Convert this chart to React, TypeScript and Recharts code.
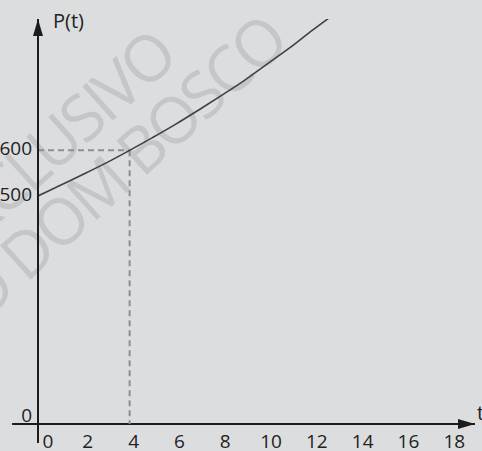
import React from 'react';
import { LineChart, Line, XAxis, YAxis, ReferenceLine, ReferenceDot } from 'recharts';

// Population P(t) over time t
const timeValues = [0, 1, 2, 3, 4, 5, 6, 7, 8, 9, 10, 11, 12, 12.7];
const populationValues = [500, 524, 548, 573, 600, 628, 657, 688, 720, 753, 789, 825, 864, 890];

// Axis ticks
const xTickValues = [0, 2, 4, 6, 8, 10, 12, 14, 16, 18];
const yTickValues = [0, 500, 600];

// Highlighted point
const markedTime = 4;
const markedPopulation = 600;

// Axis extents (arrow tips and axis tails)
const X_MIN_TAIL = -1.13;
const X_MAX = 19.08;
const Y_MIN = -41.7;
const Y_MAX = 888;

const data = timeValues.map((t, i) => ({ t, p: populationValues[i] }));

const FONT = '"Open Sans", "Noto Sans", sans-serif';
const AXIS_COLOR = '#1c1c1c';
const CURVE_COLOR = '#404040';
const GUIDE_COLOR = '#8e8e8e';
const BG = '#dcdddf';

const XTick = (props: any) => {
  const { x, y, payload } = props;
  const extra = payload.value === 0 ? 6 : 0;
  return (
    <text x={x + 4 + extra} y={y} dy={5} textAnchor="middle" fontFamily={FONT} fontSize={19} fill="#222">
      {payload.value}
    </text>
  );
};

const YTick = (props: any) => {
  const { x, y, payload } = props;
  const shift = payload.value === 0 ? -9 : -2;
  return (
    <text x={x} y={y + shift} dy="0.36em" textAnchor="end" fontFamily={FONT} fontSize={19} fill="#222">
      {payload.value}
    </text>
  );
};

const UpArrow = (props: any) => {
  const { cx, cy } = props;
  return (
    <g>
      <path d={`M${cx},${cy} L${cx - 5},${cy + 17} L${cx + 5},${cy + 17} Z`} fill={AXIS_COLOR} />
      <text x={cx + 15} y={cy + 9} fontFamily={FONT} fontSize={20} fill="#222">
        P(t)
      </text>
    </g>
  );
};

const RightArrow = (props: any) => {
  const { cx, cy } = props;
  return (
    <g>
      <path d={`M${cx},${cy} L${cx - 17},${cy - 5} L${cx - 17},${cy + 5} Z`} fill={AXIS_COLOR} />
      <text x={cx + 2} y={cy - 4} fontFamily={FONT} fontSize={20} fill="#222">
        t
      </text>
    </g>
  );
};

const Watermark = () => (
  <svg width={482} height={451} style={{ position: 'absolute', left: 0, top: 0 }}>
    <g fontFamily={FONT} fontSize={64} fill="#c5c6c8" letterSpacing={-3.5}>
      <text x={179} y={61} textAnchor="end" transform="rotate(-42 179 61)">
        USO EXCLUSIVO
      </text>
      <text x={290} y={46} textAnchor="end" transform="rotate(-42 290 46)">
        ENSINO DOM BOSCO
      </text>
    </g>
  </svg>
);

export default function App() {
  return (
    <div style={{ position: 'absolute', left: 0, top: 0, width: 482, height: 451, background: BG, overflow: 'hidden' }}>
      <Watermark />
      <div style={{ position: 'absolute', left: 0, top: 0 }}>
        <LineChart width={482} height={451} data={data} margin={{ top: 19, right: 7, bottom: 0, left: 0 }}>
          <XAxis
            dataKey="t"
            type="number"
            domain={[0, X_MAX]}
            ticks={xTickValues}
            allowDataOverflow
            height={8}
            axisLine={false}
            tickLine={false}
            tickSize={0}
            tickMargin={0}
            tick={<XTick />}
            interval={0}
          />
          <YAxis
            type="number"
            domain={[Y_MIN, Y_MAX]}
            ticks={yTickValues}
            allowDataOverflow
            width={38}
            axisLine={{ stroke: AXIS_COLOR, strokeWidth: 2 }}
            tickLine={false}
            tickSize={0}
            tickMargin={6}
            tick={<YTick />}
            interval={0}
          />
          <ReferenceLine
            segment={[{ x: X_MIN_TAIL, y: 0 }, { x: X_MAX, y: 0 }]}
            stroke={AXIS_COLOR}
            strokeWidth={2}
            ifOverflow="visible"
          />
          <ReferenceLine
            segment={[{ x: 0, y: markedPopulation }, { x: markedTime, y: markedPopulation }]}
            stroke={GUIDE_COLOR}
            strokeWidth={2}
            strokeDasharray="6 4"
            ifOverflow="visible"
          />
          <ReferenceLine
            segment={[{ x: markedTime, y: markedPopulation }, { x: markedTime, y: 0 }]}
            stroke={GUIDE_COLOR}
            strokeWidth={2}
            strokeDasharray="6 4"
            ifOverflow="visible"
          />
          <Line
            dataKey="p"
            type="monotone"
            stroke={CURVE_COLOR}
            strokeWidth={1.6}
            dot={false}
            isAnimationActive={false}
          />
          <ReferenceDot x={0} y={Y_MAX} shape={<UpArrow />} ifOverflow="visible" />
          <ReferenceDot x={X_MAX} y={0} shape={<RightArrow />} ifOverflow="visible" />
        </LineChart>
      </div>
    </div>
  );
}
